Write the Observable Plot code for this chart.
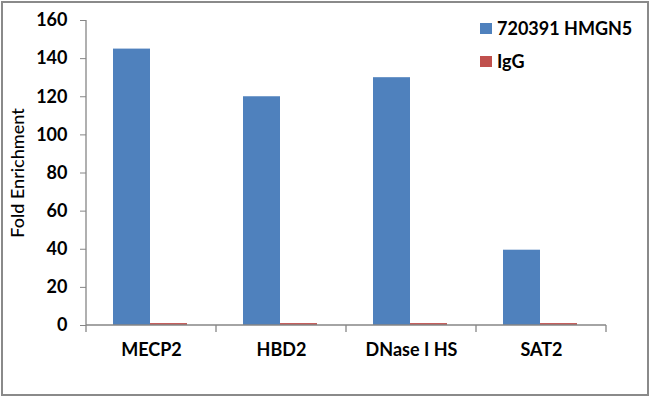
<!DOCTYPE html>
<html><head><meta charset="utf-8">
<script src="https://cdn.jsdelivr.net/npm/d3@7"></script>
<script src="https://cdn.jsdelivr.net/npm/@observablehq/plot@0.6"></script>
<style>
body{margin:0;background:#fff;}
#chart{position:relative;width:650px;height:397px;}
#chart svg{outline:2px solid #8a8a8a;outline-offset:-3px;}
.legend{position:absolute;left:480px;font-family:Lato,sans-serif;font-weight:bold;font-size:18px;color:#000;line-height:20px;}
.legend .item{display:flex;align-items:center;height:20px;margin-bottom:13px;}
.legend .sw{width:12px;height:11px;margin-right:5px;}
</style></head><body><div id="chart"></div>
<script>
const categories = ["MECP2", "HBD2", "DNase I HS", "SAT2"];
const hmgn5 = [145, 120, 130, 39.5];
const igg = [1, 1, 1, 1];
const yTicks = [0, 20, 40, 60, 80, 100, 120, 140, 160];
const seriesNames = ["720391 HMGN5", "IgG"];
const colors = ["#4F81BD", "#C0504D"];

const dataA = categories.map((c, i) => ({category: c, value: hmgn5[i]}));
const dataB = categories.map((c, i) => ({category: c, value: igg[i]}));
const axisColor = "#868686";

function axesLines(index, scales, values, dimensions) {
  const {x, y} = scales;
  const bw = x.bandwidth ? x.bandwidth() : (x(categories[1]) - x(categories[0]));
  const g = d3.create("svg:g").attr("stroke", axisColor).attr("stroke-width", 1.3).attr("fill", "none");
  const x0 = x(categories[0]);
  const x1 = x(categories[categories.length - 1]) + bw;
  const y0 = y(0);
  const yTop = y(yTicks[yTicks.length - 1]);
  g.append("line").attr("x1", x0).attr("x2", x0).attr("y1", yTop).attr("y2", y0);
  g.append("line").attr("x1", x0).attr("x2", x1).attr("y1", y0).attr("y2", y0);
  const edges = categories.map(c => x(c)).concat([x1]);
  for (const e of edges) {
    g.append("line").attr("x1", e).attr("x2", e).attr("y1", y0).attr("y2", y0 + 7);
  }
  return g.node();
}

const plot = Plot.plot({
  width: 650,
  height: 397,
  marginLeft: 86,
  marginRight: 44,
  marginTop: 20,
  marginBottom: 72,
  style: {fontFamily: "Lato, sans-serif", background: "#fff", color: "#000"},
  x: {domain: categories, padding: 0, label: null},
  y: {domain: [0, 160], label: null},
  marks: [
    Plot.barY(dataA, {x: "category", y: "value", fill: colors[0], insetLeft: 27, insetRight: 66}),
    Plot.barY(dataB, {x: "category", y: "value", fill: colors[1], insetLeft: 64, insetRight: 29}),
    axesLines,
    Plot.axisY({ticks: yTicks, tickSize: 6, tickPadding: 13, stroke: axisColor, fill: "#000", fontSize: 18, fontWeight: "bold", label: null}),
    Plot.axisX({tickSize: 0, tickPadding: 18, fill: "#000", fontSize: 18, fontWeight: "bold", label: null}),
    Plot.text(["Fold Enrichment"], {frameAnchor: "left", rotate: -90, dx: -68, textAnchor: "middle", fontSize: 18, fontWeight: 500, fill: "#000", text: d => d})
  ]
});
const chart = document.getElementById("chart");
chart.appendChild(plot);
const leg = document.createElement("div");
leg.className = "legend";
leg.style.top = "18px";
seriesNames.forEach((n, i) => {
  const it = document.createElement("div");
  it.className = "item";
  const sw = document.createElement("span");
  sw.className = "sw";
  sw.style.background = colors[i];
  const t = document.createElement("span");
  t.textContent = n;
  it.appendChild(sw); it.appendChild(t);
  leg.appendChild(it);
});
chart.appendChild(leg);
</script></body></html>
